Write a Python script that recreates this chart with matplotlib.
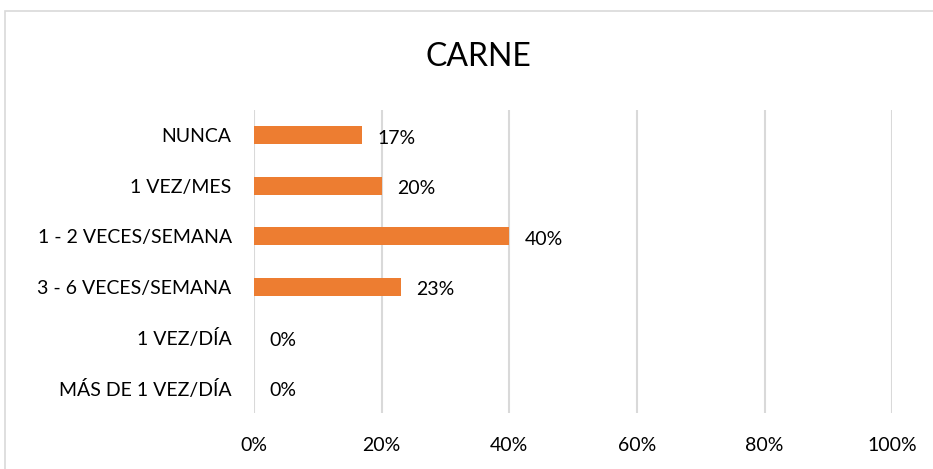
import matplotlib.pyplot as plt
from matplotlib.patches import Rectangle

plt.rcParams['font.family'] = ['Lato', 'DejaVu Sans']

# data
categorias = ['NUNCA', '1 VEZ/MES', '1 - 2 VECES/SEMANA', '3 - 6 VECES/SEMANA',
              '1 VEZ/DÍA', 'MÁS DE 1 VEZ/DÍA']
valores = [17, 20, 40, 23, 0, 0]
ticks_x = [0, 20, 40, 60, 80, 100]

naranja = '#ED7D31'

fig = plt.figure(figsize=(9.33, 4.69), dpi=100)
ax = fig.add_axes([0.2722, 0.1194, 0.684, 0.6461])

pos = list(range(len(categorias)))
ax.barh(pos, valores, height=0.36, color=naranja, zorder=3)

for p, v in zip(pos, valores):
    ax.annotate(f'{v}%', (v, p), xytext=(11, -2), textcoords='offset points',
                va='center', ha='left', fontsize=14, color='#000000')

ax.set_xlim(0, 100)
ax.set_ylim(len(categorias) - 0.5, -0.5)
ax.set_xticks(ticks_x)
ax.set_xticklabels([f'{t}%' for t in ticks_x])
ax.set_yticks(pos)
ax.set_yticklabels(categorias)
ax.tick_params(axis='both', length=0, labelsize=14, colors='#000000')
ax.tick_params(axis='x', pad=17)
ax.tick_params(axis='y', pad=16)
ax.grid(axis='x', color='#D9D9D9', linewidth=1.5, zorder=0)
for s in ax.spines.values():
    s.set_visible(False)

fig.text(0.513, 0.878, 'CARNE', ha='center', va='center', fontsize=23, color='#000000')

# outer border (chart frame, cut off at right/bottom)
fig.patches.append(Rectangle((5 / 933, -0.1), 1.2, 1 - 11 / 469 + 0.1,
                             transform=fig.transFigure, fill=False,
                             edgecolor='#D9D9D9', linewidth=1.2))

fig.savefig('out.png', dpi=100)
